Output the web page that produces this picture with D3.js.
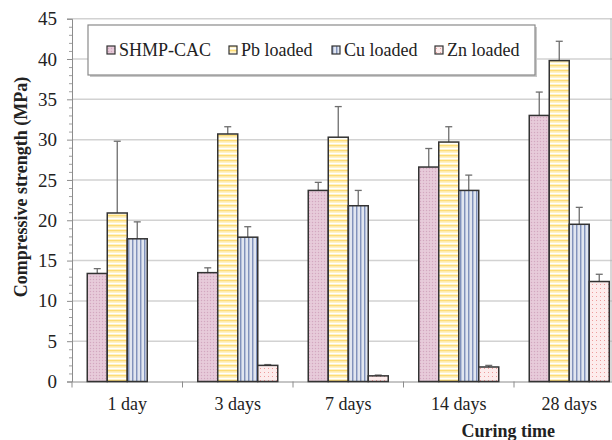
<!DOCTYPE html>
<html>
<head>
<meta charset="utf-8">
<script src="https://cdn.jsdelivr.net/npm/d3@7"></script>
<style>
  body { margin: 0; background: #fff; }
  svg { display: block; }
</style>
</head>
<body>
<svg width="612" height="440"></svg>
<script>
// Data
const categories = ["1 day", "3 days", "7 days", "14 days", "28 days"];
const seriesNames = ["SHMP-CAC", "Pb loaded", "Cu loaded", "Zn loaded"];
const shmp    = [13.4, 13.5, 23.7, 26.6, 33.0];
const shmpErr = [0.6, 0.6, 1.0, 2.3, 2.9];
const pb      = [20.9, 30.7, 30.3, 29.7, 39.8];
const pbErr   = [8.9, 0.9, 3.8, 1.9, 2.4];
const cu      = [17.7, 17.9, 21.8, 23.7, 19.5];
const cuErr   = [2.1, 1.3, 1.9, 1.9, 2.1];
const zn      = [0, 2.0, 0.7, 1.8, 12.4];
const znErr   = [0, 0.1, 0.1, 0.2, 0.9];
const yTicks  = [0, 5, 10, 15, 20, 25, 30, 35, 40, 45];

const values = [shmp, pb, cu, zn];
const errors = [shmpErr, pbErr, cuErr, znErr];
const fills = ["url(#pinkDots)", "url(#yellowStripes)", "url(#blueStripes)", "url(#znDots)"];

const svg = d3.select("svg");
const serif = "'Liberation Serif', 'Times New Roman', serif";

//Patterns
const defs = svg.append("defs");
let p = defs.append("pattern").attr("id", "pinkDots").attr("patternUnits", "userSpaceOnUse")
    .attr("width", 3).attr("height", 3);
p.append("rect").attr("width", 3).attr("height", 3).attr("fill", "#e5c6d6");
p.append("rect").attr("width", 1).attr("height", 1).attr("fill", "#d2a8c0");
p.append("rect").attr("x", 1.5).attr("y", 1.5).attr("width", 1).attr("height", 1).attr("fill", "#efdbe6");

p = defs.append("pattern").attr("id", "yellowStripes").attr("patternUnits", "userSpaceOnUse")
    .attr("width", 4).attr("height", 5);
p.append("rect").attr("width", 4).attr("height", 5).attr("fill", "#fff2c6");
p.append("rect").attr("y", 0).attr("width", 4).attr("height", 1.3).attr("fill", "#fddc76");
p.append("rect").attr("y", 3).attr("width", 4).attr("height", 1).attr("fill", "#ffffff");

p = defs.append("pattern").attr("id", "blueStripes").attr("patternUnits", "userSpaceOnUse")
    .attr("width", 4).attr("height", 4);
p.append("rect").attr("width", 4).attr("height", 4).attr("fill", "#c3cde2");
p.append("rect").attr("x", 0).attr("width", 1.2).attr("height", 4).attr("fill", "#8192bb");
p.append("rect").attr("x", 2.5).attr("width", 1).attr("height", 4).attr("fill", "#ffffff");

p = defs.append("pattern").attr("id", "znDots").attr("patternUnits", "userSpaceOnUse")
    .attr("width", 4).attr("height", 4);
p.append("rect").attr("width", 4).attr("height", 4).attr("fill", "#fdecec");
p.append("rect").attr("width", 1).attr("height", 1).attr("fill", "#ee9c9c");

//Scales
const plotLeft = 72, plotBottom = 381.5, plotTop = 18.7, plotRight = 624.5;
const x0 = d3.scaleBand().domain(categories).range([plotLeft, plotRight]).padding(0);
const x1 = d3.scaleBand().domain(seriesNames).range([0, x0.bandwidth()])
    .paddingInner(0).paddingOuter(0.7625);
const y = d3.scaleLinear().domain([0, 45]).range([plotBottom, plotTop]);

//Gridlines
svg.append("g")
    .selectAll("line")
    .data(yTicks.filter(t => t > 0))
    .enter().append("line")
    .attr("x1", plotLeft).attr("x2", 612)
    .attr("y1", d => y(d)).attr("y2", d => y(d))
    .attr("stroke", "#d2d2d2").attr("stroke-width", 1.5);

svg.append("line")
    .attr("x1", 611).attr("x2", 611).attr("y1", y(45)).attr("y2", y(0))
    .attr("stroke", "#b0b0b0").attr("stroke-width", 1);

//Y axis
const yaxis = d3.axisLeft(y).tickValues(yTicks).tickSize(5).tickPadding(10);
const gy = svg.append("g").attr("transform", `translate(${plotLeft},0)`).call(yaxis);
gy.select(".domain").attr("stroke", "#8c8c8c");
gy.selectAll(".tick line").attr("stroke", "#8c8c8c");
gy.selectAll("text").attr("font-family", serif).attr("font-size", 19).attr("fill", "#222");

const yminor = d3.axisLeft(y).tickValues(d3.range(0, 46).filter(v => v % 5 != 0))
    .tickSize(3).tickFormat("");
const gym = svg.append("g").attr("transform", `translate(${plotLeft},0)`).call(yminor);
gym.select(".domain").remove();
gym.selectAll(".tick line").attr("stroke", "#a0a0a0");

//X axis
const xaxis = d3.axisBottom(x0).tickSize(0).tickPadding(16);
const gx = svg.append("g").attr("transform", `translate(0,${plotBottom})`).call(xaxis);
gx.select(".domain").attr("stroke", "#8c8c8c").attr("stroke-width", 1.2);
gx.selectAll("text").attr("font-family", serif).attr("font-size", 18).attr("fill", "#222");
gx.append("g").selectAll("line")
    .data(categories)
    .enter().append("line")
    .attr("x1", d => x0(d) + x0.bandwidth()).attr("x2", d => x0(d) + x0.bandwidth())
    .attr("y1", 0).attr("y2", 6)
    .attr("stroke", "#8c8c8c");
gx.append("line").attr("x1", plotLeft).attr("x2", plotLeft).attr("y1", 0).attr("y2", 6).attr("stroke", "#8c8c8c");

//Bars
const bars = [];
values.forEach((vals, s) => vals.forEach((v, c) => {
    if (v > 0) bars.push({ s: s, c: c, v: v, e: errors[s][c] });
}));

svg.append("g")
    .selectAll("line")
    .data(bars)
    .enter().append("line")
    .attr("x1", d => x0(categories[d.c]) + x1(seriesNames[d.s]) + x1.bandwidth() / 2)
    .attr("x2", d => x0(categories[d.c]) + x1(seriesNames[d.s]) + x1.bandwidth() / 2)
    .attr("y1", d => y(d.v)).attr("y2", d => y(d.v + d.e))
    .attr("stroke", "#6e6e6e").attr("stroke-width", 1.3);

svg.append("g")
    .selectAll("line")
    .data(bars)
    .enter().append("line")
    .attr("x1", d => x0(categories[d.c]) + x1(seriesNames[d.s]) + x1.bandwidth() / 2 - 3.5)
    .attr("x2", d => x0(categories[d.c]) + x1(seriesNames[d.s]) + x1.bandwidth() / 2 + 3.5)
    .attr("y1", d => y(d.v + d.e)).attr("y2", d => y(d.v + d.e))
    .attr("stroke", "#6e6e6e").attr("stroke-width", 1.3);

svg.append("g")
    .selectAll("rect")
    .data(bars)
    .enter().append("rect")
    .attr("x", d => x0(categories[d.c]) + x1(seriesNames[d.s]))
    .attr("y", d => y(d.v))
    .attr("width", x1.bandwidth())
    .attr("height", d => y(0) - y(d.v))
    .attr("fill", d => fills[d.s])
    .attr("stroke", "#333")
    .attr("stroke-width", 1.5);

//Legend
const legend = svg.append("g");
legend.append("rect").attr("x", 90).attr("y", 27).attr("width", 447).attr("height", 50).attr("fill", "#c8c8c8");
legend.append("rect").attr("x", 88).attr("y", 25).attr("width", 447).attr("height", 50)
    .attr("fill", "#fff").attr("stroke", "#8a8a8a").attr("stroke-width", 1.2);
const legendX = [107, 229, 332, 435];
seriesNames.forEach((name, i) => {
    legend.append("rect").attr("x", legendX[i]).attr("y", 46).attr("width", 8).attr("height", 8)
        .attr("fill", fills[i]).attr("stroke", "#333").attr("stroke-width", 1.2);
    legend.append("text").attr("x", legendX[i] + 12).attr("y", 56)
        .attr("font-family", serif).attr("font-size", 18).attr("fill", "#222")
        .text(name);
});

//Axis titles
svg.append("text")
    .attr("transform", "translate(27,187) rotate(-90)")
    .attr("text-anchor", "middle")
    .attr("font-family", serif).attr("font-size", 18).attr("font-weight", "bold").attr("fill", "#222")
    .text("Compressive strength (MPa)");

svg.append("text")
    .attr("x", 555).attr("y", 437)
    .attr("text-anchor", "end")
    .attr("font-family", serif).attr("font-size", 18).attr("font-weight", "bold").attr("fill", "#222")
    .text("Curing time");
</script>
</body>
</html>
